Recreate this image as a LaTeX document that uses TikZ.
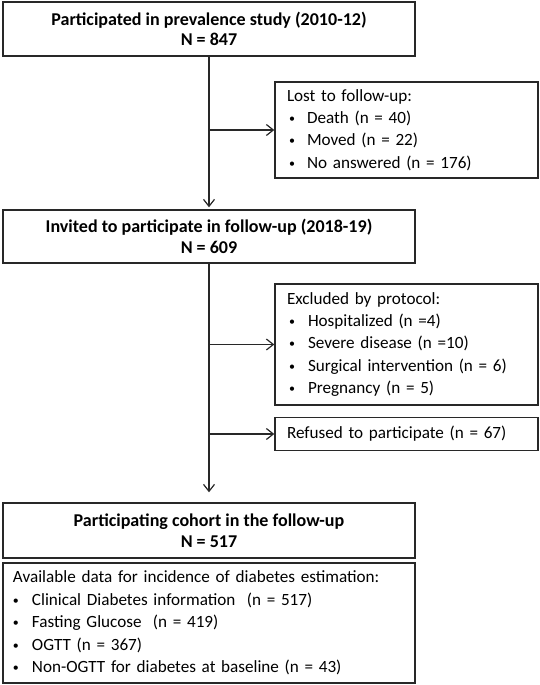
\documentclass[tikz,border=0pt]{standalone}
\usepackage{fontspec}
\setmainfont{Carlito}
\usetikzlibrary{arrows.meta}
\definecolor{edge}{RGB}{40,40,40}
\newcommand{\bul}{\raisebox{1bp}{\fontsize{12}{12}\selectfont\textbullet}}
\newcommand{\itm}[2]{\hspace*{#1}\makebox[#2][l]{\bul}}
\begin{document}
\begin{tikzpicture}[x=1bp,y=-1bp,
  box/.style={draw=edge, line width=1.4bp, inner sep=0pt, font=\fontsize{17.2}{22.5}\selectfont},
  head/.style={box, align=center, minimum width=412bp, font=\fontsize{18.1}{20.8}\selectfont\bfseries},
  side/.style={box, align=left, text width=#1},
  conn/.style={draw=edge, line width=1.2bp, -{Straight Barb[length=7bp,width=11bp]}}
]
\useasboundingbox (0,0) rectangle (540,685);
\node[head, minimum height=54bp] (b1) at (209,29)
  {Participated in prevalence study (2010-12)\\N = 847};
\node[side=239bp, minimum width=263bp, minimum height=96bp] (lost) at (406.5,130)
  {Lost to follow-up:\\
   \itm{2bp}{18bp}Death (n = 40)\\
   \itm{2bp}{18bp}Moved (n = 22)\\
   \itm{2bp}{18bp}No answered (n = 176)};
\node[head, minimum height=53bp] (b2) at (209,236.5)
  {Invited to participate in follow-up (2018-19)\\N = 609};
\node[side=239bp, minimum width=263bp, minimum height=121bp] (excl) at (406.5,344.5)
  {Excluded by protocol:\\
   \itm{2bp}{19bp}Hospitalized (n =4)\\
   \itm{2bp}{19bp}Severe disease (n =10)\\
   \itm{2bp}{19bp}Surgical intervention (n = 6)\\
   \itm{2bp}{19bp}Pregnancy (n = 5)};
\node[side=239bp, minimum width=263bp, minimum height=33bp] (ref) at (406.5,434)
  {Refused to participate (n = 67)};
\node[head, minimum height=55bp] (b3) at (209,530.5)
  {Participating cohort in the follow-up\\N = 517};
\node[side=392bp, minimum width=412bp, minimum height=120bp] (b4) at (209,623)
  {Available data for incidence of diabetes estimation:\\
   \itm{0bp}{19bp}Clinical Diabetes information\ \ (n = 517)\\
   \itm{0bp}{19bp}Fasting Glucose\ \ (n = 419)\\
   \itm{0bp}{19bp}OGTT (n = 367)\\
   \itm{0bp}{19bp}Non-OGTT for diabetes at baseline (n = 43)};
\draw[conn, shorten >=2bp] (b1.south) -- (b2.north);
\draw[conn] (b1.south |- lost.west) -- (lost.west);
\draw[conn] (b2.south |- excl.west) -- (excl.west);
\draw[conn] (b2.south |- ref.west) -- (ref.west);
\draw[conn, shorten >=10bp] (b2.south) -- (b3.north);
\end{tikzpicture}
\end{document}
